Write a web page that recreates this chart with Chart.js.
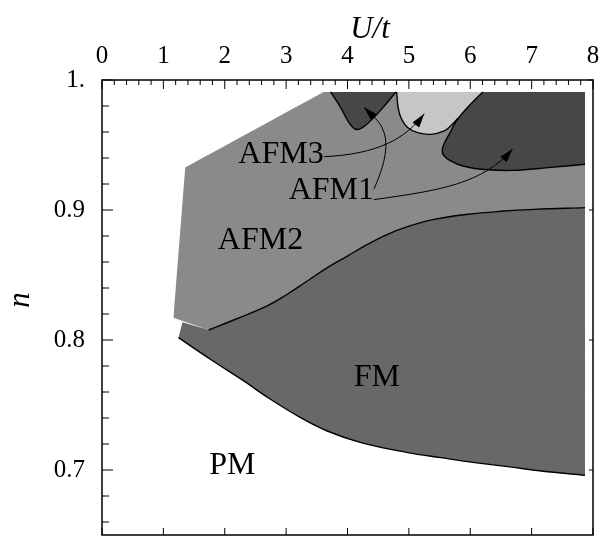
<!DOCTYPE html>
<html>
<head>
<meta charset="utf-8">
<script src="https://cdn.jsdelivr.net/npm/chart.js@4.4.1/dist/chart.umd.min.js"></script>
<style>
	html, body { margin: 0; padding: 0; background: #fff; }
	#phase-wrap { width: 599px; height: 536px; }
</style>
</head>
<body>
<div id="phase-wrap"><canvas id="phase-chart" width="599" height="536"></canvas></div>
<script>
(function () {
	'use strict';

	// axis ticks
	const xTickValues = [0, 1, 2, 3, 4, 5, 6, 7, 8];
	const xTickLabels = ['0', '1', '2', '3', '4', '5', '6', '7', '8'];
	const yTickValues = [0.7, 0.8, 0.9, 1.0];
	const yTickLabels = ['0.7', '0.8', '0.9', '1.'];

	// phase boundaries, points are [U/t, n]
	const fmUpper = [
		[1.737, 0.8077], [2.145, 0.8154], [2.691, 0.8262], [3.018, 0.8352], [3.345, 0.8454],
		[3.672, 0.8557], [3.998, 0.8646], [4.325, 0.8736], [4.652, 0.8813], [4.979, 0.8872],
		[5.41, 0.8928], [5.96, 0.8967], [6.50, 0.8990], [7.05, 0.9005], [7.87, 0.9018]
	];
	const fmLower = [
		[1.247, 0.8018], [1.765, 0.7852], [2.31, 0.7685], [2.745, 0.7544], [3.235, 0.7403],
		[3.67, 0.7300], [4.22, 0.7211], [4.98, 0.7134], [5.52, 0.7095], [6.07, 0.7057],
		[6.61, 0.7026], [7.16, 0.6992], [7.87, 0.6959]
	];
	const fmCorner = [1.31, 0.8136];
	const afm2Corners = [[1.165, 0.8172], [1.356, 0.9327], [3.61, 0.9908], [7.87, 0.9908]];
	const afm1Small = [
		[3.725, 0.9908], [3.889, 0.9788], [4.025, 0.9672], [4.134, 0.9621], [4.243, 0.9634],
		[4.43, 0.9711], [4.624, 0.9813], [4.788, 0.9908]
	];
	const afm3Edge = [
		[4.80, 0.9908], [4.825, 0.9788], [4.869, 0.9711], [4.979, 0.9634], [5.142, 0.9595],
		[5.359, 0.9582], [5.577, 0.9608], [5.70, 0.9655], [5.80, 0.9705]
	];
	const afm3Corner = [6.5, 0.9908];
	const afm1Big = [
		[6.204, 0.9908], [6.013, 0.9818], [5.904, 0.9762], [5.768, 0.9682], [5.686, 0.9608],
		[5.551, 0.9480], [5.577, 0.9415], [5.796, 0.9352], [6.176, 0.9313], [6.72, 0.9305],
		[7.266, 0.9326], [7.87, 0.9352]
	];
	const afm1BigCorner = [7.87, 0.9908];

	// labels and arrows, in U/t and n
	const regionLabels = [
		{ text: 'AFM3', u: 2.917, n: 0.9428 },
		{ text: 'AFM1', u: 3.737, n: 0.9152 },
		{ text: 'AFM2', u: 2.582, n: 0.8768 },
		{ text: 'FM', u: 4.477, n: 0.7710 },
		{ text: 'PM', u: 2.124, n: 0.7036 }
	];
	const arrowAfm3 = [[3.62, 0.941], [4.5, 0.943], [4.95, 0.955], [5.25, 0.974]];
	const arrowAfm1Small = [[4.43, 0.916], [4.85, 0.960], [4.50, 0.968], [4.27, 0.979]];
	const arrowAfm1Big = [[4.43, 0.908], [5.5, 0.915], [6.2, 0.920], [6.69, 0.947]];

	const serif = '"Liberation Serif", "Times New Roman", serif';

	function toPoints(arr) {
		return arr.map(function (p) { return { x: p[0], y: p[1] }; });
	}

	// each part is one smooth piece; its end points are doubled so the
	// spline keeps the corners between pieces sharp
	function shape(parts) {
		const out = [];
		parts.forEach(function (part) {
			part.forEach(function (p, i) {
				out.push({ x: p[0], y: p[1] });
				if (i === 0 || i === part.length - 1) {
					out.push({ x: p[0], y: p[1] });
				}
			});
		});
		return out;
	}

	function corners(list) {
		return list.map(function (p) { return [p]; });
	}

	function fillSet(data, color, order) {
		return {
			data: data,
			backgroundColor: color,
			borderColor: 'rgba(0,0,0,0)',
			borderWidth: 0,
			fill: 'shape',
			pointRadius: 0,
			tension: 0.4,
			order: order
		};
	}

	function edgeSet(data) {
		return {
			data: toPoints(data),
			borderColor: '#000',
			borderWidth: 1.4,
			fill: false,
			pointRadius: 0,
			tension: 0.4,
			order: 1
		};
	}

	const fmUpperBack = fmUpper.slice().reverse();

	function drawArrow(ctx, xs, ys, c) {
		const p = c.map(function (q) { return [xs.getPixelForValue(q[0]), ys.getPixelForValue(q[1])]; });
		ctx.beginPath();
		ctx.moveTo(p[0][0], p[0][1]);
		ctx.bezierCurveTo(p[1][0], p[1][1], p[2][0], p[2][1], p[3][0], p[3][1]);
		ctx.stroke();
		const ang = Math.atan2(p[3][1] - p[2][1], p[3][0] - p[2][0]);
		ctx.save();
		ctx.translate(p[3][0], p[3][1]);
		ctx.rotate(ang);
		ctx.beginPath();
		ctx.moveTo(0, 0);
		ctx.lineTo(-14, 4.2);
		ctx.lineTo(-14, -4.2);
		ctx.closePath();
		ctx.fill();
		ctx.restore();
	}

	function noPadding(scale) {
		scale.paddingLeft = 0;
		scale.paddingRight = 0;
		scale.paddingTop = 0;
		scale.paddingBottom = 0;
	}

	const framePlugin = {
		id: 'phaseFrame',
		afterDraw: function (chart) {
			const ctx = chart.ctx;
			const a = chart.chartArea;
			const xs = chart.scales.x;
			const ys = chart.scales.y;

			ctx.save();
			ctx.fillStyle = '#000';
			ctx.strokeStyle = '#000';

			// arrows
			ctx.lineWidth = 1;
			[arrowAfm3, arrowAfm1Small, arrowAfm1Big].forEach(function (c) {
				drawArrow(ctx, xs, ys, c);
			});

			// phase names
			ctx.font = '32px ' + serif;
			ctx.textAlign = 'center';
			ctx.textBaseline = 'middle';
			regionLabels.forEach(function (l) {
				ctx.fillText(l.text, xs.getPixelForValue(l.u), ys.getPixelForValue(l.n));
			});

			// axis titles
			ctx.font = 'italic 31px ' + serif;
			ctx.fillText('U/t', 370, 30);
			ctx.save();
			ctx.translate(21, 300);
			ctx.rotate(-Math.PI / 2);
			ctx.fillText('n', 0, 0);
			ctx.restore();

			// frame
			ctx.lineWidth = 1.5;
			ctx.strokeRect(a.left, a.top, a.right - a.left, a.bottom - a.top);

			// inward ticks
			ctx.lineWidth = 1;
			ctx.beginPath();
			for (let i = 0; i <= 40; i++) {
				const x = xs.getPixelForValue(i / 5);
				const major = i % 5 === 0;
				ctx.moveTo(x, a.top);
				ctx.lineTo(x, a.top + (major ? 9 : 5));
				if (major) {
					ctx.moveTo(x, a.bottom);
					ctx.lineTo(x, a.bottom - 7);
				}
			}
			for (let j = 33; j <= 50; j++) {
				const y = ys.getPixelForValue(j / 50);
				const major = j % 5 === 0;
				ctx.moveTo(a.left, y);
				ctx.lineTo(a.left + (major ? 11 : 7), y);
				if (major) {
					ctx.moveTo(a.right, y);
					ctx.lineTo(a.right - 4, y);
				}
			}
			ctx.stroke();
			ctx.restore();
		}
	};

	new Chart(document.getElementById('phase-chart'), {
		type: 'line',
		data: {
			datasets: [
				fillSet(shape(corners(afm2Corners).concat([fmUpperBack])), '#8a8a8a', 10),
				fillSet(shape([fmLower, fmUpperBack, [fmCorner]]), '#686868', 9),
				fillSet(shape([afm3Edge, [afm3Corner]]), '#c6c6c6', 8),
				fillSet(shape([afm1Small]), '#474747', 7),
				fillSet(shape([afm1Big, [afm1BigCorner]]), '#474747', 6),
				edgeSet(fmUpper),
				edgeSet(fmLower),
				edgeSet(afm1Small),
				edgeSet(afm3Edge),
				edgeSet(afm1Big)
			]
		},
		options: {
			responsive: false,
			animation: false,
			layout: { padding: { left: 0, top: 0, right: 6, bottom: 1 } },
			plugins: {
				legend: { display: false },
				tooltip: { enabled: false }
			},
			scales: {
				x: {
					type: 'linear',
					position: 'top',
					min: 0,
					max: 8,
					afterBuildTicks: function (scale) {
						scale.ticks = xTickValues.map(function (v) { return { value: v }; });
					},
					afterFit: function (scale) {
						scale.height = 80;
						noPadding(scale);
					},
					grid: { display: false, drawTicks: false },
					border: { display: false },
					ticks: {
						padding: 9,
						maxRotation: 0,
						autoSkip: false,
						color: '#000',
						font: { family: serif, size: 25 },
						callback: function (v, i) { return xTickLabels[i]; }
					}
				},
				y: {
					type: 'linear',
					min: 0.65,
					max: 1.0,
					afterBuildTicks: function (scale) {
						scale.ticks = yTickValues.map(function (v) { return { value: v }; });
					},
					afterFit: function (scale) {
						scale.width = 102;
						noPadding(scale);
					},
					grid: { display: false, drawTicks: false },
					border: { display: false },
					ticks: {
						padding: 17,
						autoSkip: false,
						color: '#000',
						font: { family: serif, size: 25 },
						callback: function (v, i) { return yTickLabels[i]; }
					}
				}
			}
		},
		plugins: [framePlugin]
	});
})();
</script>
</body>
</html>
